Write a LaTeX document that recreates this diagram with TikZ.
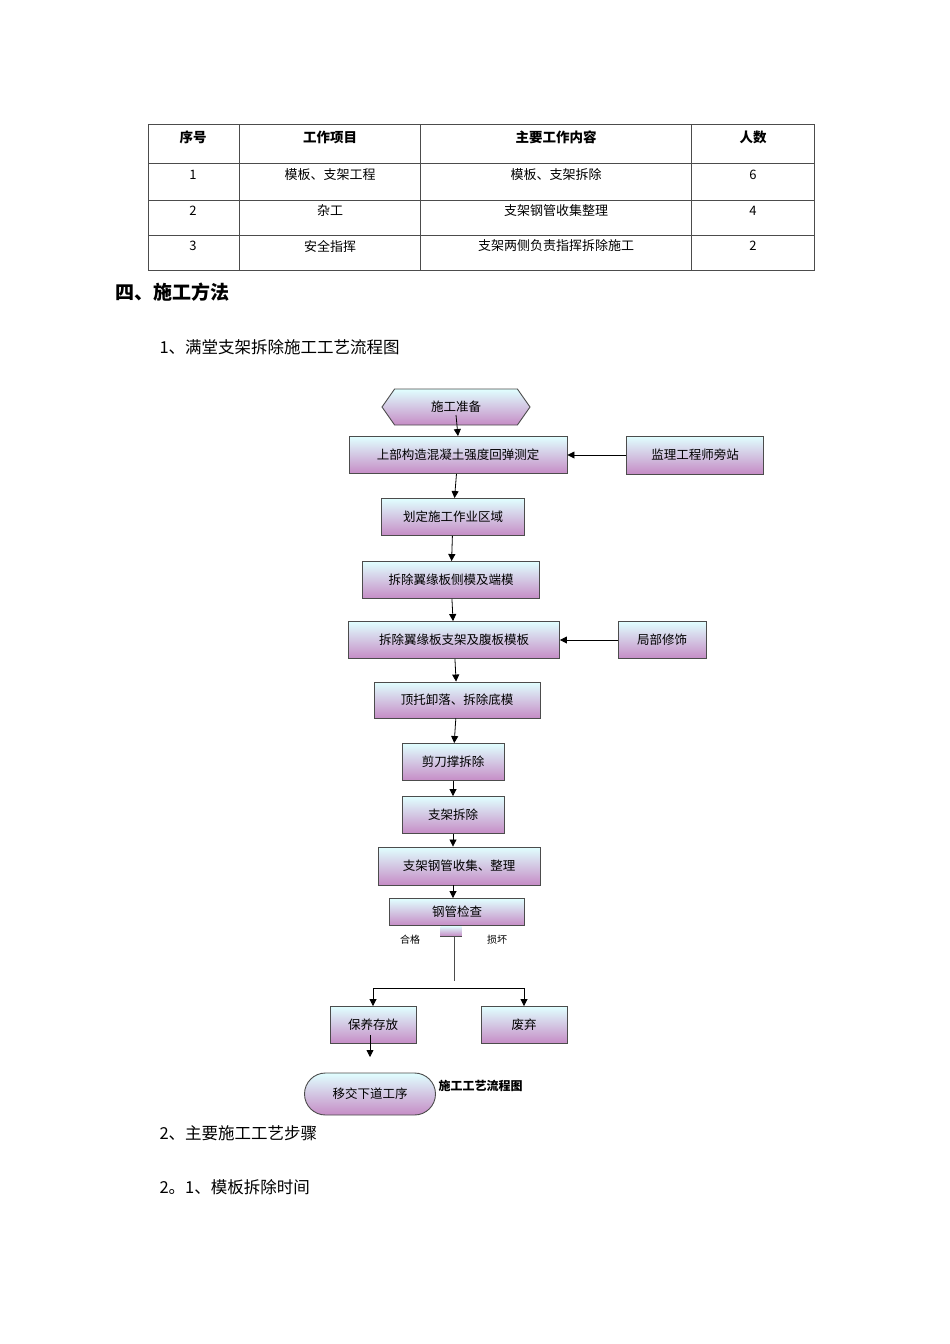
\documentclass[tikz,border=0pt]{standalone}
\usepackage{fontspec}
\setmainfont{Liberation Serif}
\newfontfamily\cjk{Noto Sans CJK SC}
\usetikzlibrary{shapes.misc,shapes.geometric,shapes.symbols,arrows.meta}
\begin{document}
\begin{tikzpicture}[x=1pt,y=-1pt,
  fb/.style={draw=black!70,line width=0.9pt,top color=cyan!12,bottom color=violet!45,minimum height=#1,inner sep=0pt,font=\cjk\fontsize{12.5}{12.5}\selectfont},
  fb/.default=37pt,
  ar/.style={-{Triangle[length=7pt,width=7pt]},line width=0.8pt},
  tx/.style={font=\cjk\fontsize{13}{13}\selectfont,anchor=center},
  bt/.style={font=\cjk\bfseries\fontsize{13.5}{13.5}\selectfont,anchor=center}]
\useasboundingbox (0,0) rectangle (950,1344);
% table
\draw[black!70,line width=0.6pt] (148,124) rectangle (814,270);
\foreach \x in {239,420,691} \draw[black!70,line width=0.6pt] (\x,124)--(\x,270);
\foreach \y in {163,200,235} \draw[black!70,line width=0.6pt] (148,\y)--(814,\y);
\node[bt] (h1) at (193,137) {序号};
\node[bt] (h2) at (330,137) {工作项目};
\node[bt] (h3) at (556,137) {主要工作内容};
\node[bt] (h4) at (753,137) {人数};
\node[tx] (a1) at (193,175) {1};
\node[tx] (a2) at (330,175) {模板、支架工程};
\node[tx] (a3) at (556,175) {模板、支架拆除};
\node[tx] (a4) at (753,175) {6};
\node[tx] (b1) at (193,211) {2};
\node[tx] (b2) at (330,211) {杂工};
\node[tx] (b3) at (556,211) {支架钢管收集整理};
\node[tx] (b4) at (753,211) {4};
\node[tx] (c1) at (193,246) {3};
\node[tx] (c2) at (330,246) {安全指挥};
\node[tx] (c3) at (556,246) {支架两侧负责指挥拆除施工};
\node[tx] (c4) at (753,246) {2};
\node[anchor=west,font=\cjk\bfseries\fontsize{19}{19}\selectfont] (s4) at (112,292) {四、施工方法};
\node[anchor=west,font=\cjk\fontsize{16.5}{16.5}\selectfont] (s1) at (156,347) {1、满堂支架拆除施工工艺流程图};
\node[anchor=west,font=\cjk\fontsize{16.5}{16.5}\selectfont] (s2) at (156,1133) {2、主要施工工艺步骤};
\node[anchor=west,font=\cjk\fontsize{16.5}{16.5}\selectfont] (s3) at (156,1187) {2。1、模板拆除时间};
% flow
\node[fb=36pt,signal,signal to=west and east,signal pointer angle=110,minimum width=148pt] (n0) at (456,407) {施工准备};
\node[fb,minimum width=218pt] (n1) at (458,455) {上部构造混凝土强度回弹测定};
\node[fb=38pt,minimum width=137pt] (j) at (695,455) {监理工程师旁站};
\node[fb,minimum width=143pt] (n2) at (453,517) {划定施工作业区域};
\node[fb,minimum width=177pt] (n3) at (451,580) {拆除翼缘板侧模及端模};
\node[fb,minimum width=211pt] (n4) at (454,640) {拆除翼缘板支架及腹板模板};
\node[fb,minimum width=88pt] (l) at (662,640) {局部修饰};
\node[fb=36pt,minimum width=166pt] (n5) at (457,700) {顶托卸落、拆除底模};
\node[fb,minimum width=102pt] (n6) at (453,762) {剪刀撑拆除};
\node[fb,minimum width=102pt] (n7) at (453,815) {支架拆除};
\node[fb=38pt,minimum width=162pt] (n8) at (459,866) {支架钢管收集、整理};
\node[fb=27pt,minimum width=135pt] (n9) at (457,912) {钢管检查};
\node[fb=10pt,minimum width=21pt,draw=none] (tab) at (451,931) {};
\draw[black!70,line width=0.9pt] (tab.south west)--(tab.south east);
\node[font=\cjk\fontsize{10}{10}\selectfont] (hg) at (410,940) {合格};
\node[font=\cjk\fontsize{10}{10}\selectfont] (sh) at (497,940) {损坏};
\node[fb,minimum width=86pt] (ba) at (373,1025) {保养存放};
\node[fb,minimum width=86pt] (fq) at (524,1025) {废弃};
\node[fb=42pt,minimum width=131pt,rounded rectangle] (yj) at (370,1094) {移交下道工序};
\node[anchor=west,font=\cjk\bfseries\fontsize{12}{12}\selectfont] (cap) at (435,1086) {施工工艺流程图};
\coordinate (sp) at (454,988);
\coordinate (ae) at (370,1057);
\draw[ar] (456,415)--(n1.north);
\draw[ar] (j)--(n1);
\draw[ar] (n1)--(n2);
\draw[ar] (n2)--(n3);
\draw[ar] (n3)--(n4);
\draw[ar] (l)--(n4);
\draw[ar] (n4)--(n5);
\draw[ar] (n5)--(n6);
\draw[ar] (n6)--(n7);
\draw[ar] (n7)--(n8.north-|n7);
\draw[ar] (n8.south-|n7)--(n9.north-|n7);
\draw[black!70,line width=0.9pt] (tab.south-|sp)--(454,981);
\draw[ar] (sp)-|(ba);
\draw[ar] (sp)-|(fq);
\draw[ar] (370,1035)--(ae);
\end{tikzpicture}
\end{document}
